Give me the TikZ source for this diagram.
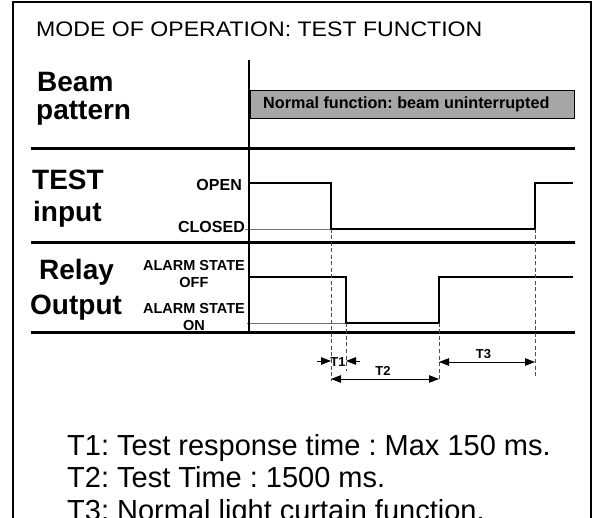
\documentclass[tikz,border=0pt]{standalone}
\usepackage{fontspec}
\setmainfont{Liberation Sans}
\usetikzlibrary{arrows.meta}
\usetikzlibrary{positioning}
\frenchspacing
\tikzset {
  % heavy rules between the rows
  rule/.style = {
    draw = black,
    line width = 3pt
  },
  % the time axis
  axis/.style = {
    draw = black,
    line width = 2.4pt
  },
  % signal trace
  signal/.style = {
    draw = black,
    line width = 1.6pt
  },
  % thin rest level in front of a trace
  level/.style = {
    draw = black!55,
    line width = 0.9pt
  },
  % dashed guide down to the time marks
  guide/.style = {
    draw = black!70,
    line width = 0.8pt,
    dash pattern = on 4pt off 2.5pt
  },
  % one-sided dimension arrow
  dim/.style = {
    draw = black,
    line width = 0.8pt,
    -{Triangle[length=10pt,width=7.5pt]}
  },
  % two-sided dimension arrow
  dims/.style = {
    dim,
    {Triangle[length=10pt,width=7.5pt]}-{Triangle[length=10pt,width=7.5pt]}
  }
}
\tikzset {
  % big row heading
  row head/.style = {
    inner sep = 0,
    anchor = base west,
    font = \fontsize{28}{32}\selectfont\bfseries
  },
  % state name beside the axis
  state/.style = {
    inner sep = 0,
    align = center,
    font = \fontsize{14.5}{17}\selectfont\bfseries
  },
  % input level name
  level name/.style = {
    state,
    font = \fontsize{16}{19}\selectfont\bfseries
  },
  % T1, T2, T3 marks
  tmark/.style = {
    inner sep = 0,
    font = \fontsize{13}{15}\selectfont\bfseries
  },
  % explanation lines below
  note/.style = {
    inner sep = 0,
    anchor = base west,
    font = \fontsize{29}{33}\selectfont
  }
}

\begin{document}
\begin{tikzpicture}[x=1pt, y=-1pt]
    \clip (0,0) rectangle (594,518);
    \fill[white] (0,0) rectangle (594,518);

    % frame, open at the bottom
    \draw[line width=1.2pt] (13,518) -- (13,2) -- (591,2) -- (591,518);

    \node[inner sep=0, anchor=base west, font=\fontsize{21}{25}\selectfont]
      (title) at (36,37) {\scalebox{1.1}[1]{MODE OF OPERATION: TEST FUNCTION}};

    % beam row
    \node[row head] (beam) at (37,92) {Beam};
    \node[row head] (pattern) at (36,120) {pattern};
    \node[draw=black, fill=black!35, line width=0.8pt, inner sep=0,
      minimum width=324pt, minimum height=28pt, anchor=north west]
      (beam-box) at (250,90) {};
    \node[inner sep=0, anchor=west, font=\fontsize{16.2}{19}\selectfont\bfseries]
      (beam-text) at ([xshift=13pt]beam-box.west) {Normal function: beam uninterrupted};

    % test input row
    \node[row head] (test) at (32,190) {TEST};
    \node[row head] (input) at (33,222) {input};
    \node[level name, anchor=base east] (open) at (242,191) {OPEN};
    \node[level name, anchor=base east] (closed) at (245,233) {CLOSED};

    \coordinate (test-0) at (250,183);
    \coordinate (test-1) at (331,183);
    \coordinate (test-2) at (331,229);
    \coordinate (test-3) at (535,229);
    \coordinate (test-4) at (535,183);
    \coordinate (test-5) at (573,183);

    \draw[level] (closed.east |- test-2) -- (test-2);
    \draw[signal] (test-0) -- (test-1) -- (test-2)
      -- (test-3) -- (test-4) -- (test-5);

    % relay output row
    \node[row head] (relay) at (39,280) {Relay};
    \node[row head] (output) at (30,315) {Output};
    \node[state, anchor=east] (off) at (245,274.5) {ALARM STATE\\OFF};
    \node[state, anchor=east] (on) at (245,317.5) {ALARM STATE\\ON};

    \coordinate (relay-0) at (250,277);
    \coordinate (relay-1) at (346,277);
    \coordinate (relay-2) at (346,323);
    \coordinate (relay-3) at (439,323);
    \coordinate (relay-4) at (439,277);
    \coordinate (relay-5) at (573,277);

    \draw[level] ([xshift=2pt]on.east |- relay-2) -- (relay-2);
    \draw[signal] (relay-0) -- (relay-1) -- (relay-2)
      -- (relay-3) -- (relay-4) -- (relay-5);

    % rules and axis
    \coordinate (rule-1-l) at (31,149);
    \coordinate (rule-1-r) at (575,149);
    \coordinate (rule-2-l) at (31,243);
    \coordinate (rule-2-r) at (575,243);
    \coordinate (rule-3-l) at (31,333);
    \coordinate (rule-3-r) at (575,333);
    \draw[rule] (rule-1-l) -- (rule-1-r);
    \draw[rule] (rule-2-l) -- (rule-2-r);
    \draw[rule] (rule-3-l) -- (rule-3-r);
    \coordinate (axis-top) at (249,60);
    \draw[axis] (axis-top) -- (axis-top |- rule-3-l);

    % guides down to the time marks
    \coordinate (mark-a) at (331,381);
    \coordinate (mark-b) at (346,371);
    \coordinate (mark-c) at (439,381);
    \coordinate (mark-d) at (535,378);
    \draw[guide] (test-2) -- (mark-a);
    \draw[guide] (relay-2) -- (mark-b);
    \draw[guide] (relay-3) -- (mark-c);
    \draw[guide] (test-3) -- (mark-d);

    % time marks
    \coordinate (t1-l) at (317,361);
    \coordinate (t1-r) at (360,361);
    \coordinate (t2-l) at (331,379);
    \coordinate (t3-l) at (439,362);
    \draw[dim] (t1-l) -- (t1-l -| mark-a);
    \draw[dim] (t1-r) -- (t1-r -| mark-b);
    \draw[dims] (t2-l) -- (t2-l -| mark-c);
    \draw[dims] (t3-l) -- (t3-l -| mark-d);
    \node[tmark] (t1) at (338,362.5) {T1};
    \node[tmark] (t2) at (383,371) {T2};
    \node[tmark] (t3) at (483.5,354.5) {T3};

    % explanation
    \node[note] (t1-note) at (67,455) {T1: Test response time : Max 150 ms.};
    \node[note] (t2-note) at (67,487) {T2: Test Time : 1500 ms.};
    \node[note] (t3-note) at (67,520) {T3: Normal light curtain function.};
\end{tikzpicture}
\end{document}
